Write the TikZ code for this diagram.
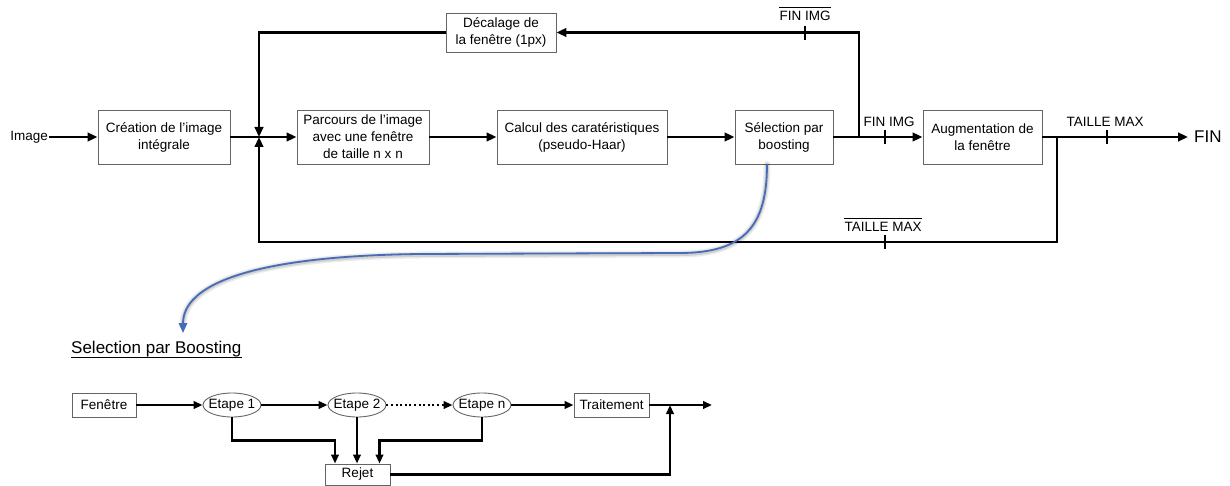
\documentclass[tikz,border=0pt]{standalone}
\usepackage{fontspec}
\setmainfont{Liberation Sans}
\usetikzlibrary{arrows.meta,calc,shapes.geometric}
\definecolor{framegray}{RGB}{100,100,100}
\definecolor{linkblue}{RGB}{70,108,184}

\begin{document}
\begin{tikzpicture}[x=1pt,y=-1pt,
  txt/.style={font=\fontsize{13.5}{17}\selectfont},
  box/.style={txt,draw=framegray,line width=0.9pt,fill=white,inner sep=0pt,align=center},
  stage/.style={txt,draw=framegray,line width=0.9pt,fill=white,ellipse,inner sep=0pt,
    minimum width=58pt,minimum height=24pt},
  wire/.style={line width=2.6pt},
  conn/.style={wire,-{Triangle[length=10pt,width=8.5pt]}},
  swire/.style={line width=2.2pt},
  sconn/.style={swire,-{Triangle[length=9pt,width=7.5pt]}},
  tick/.style={line width=1.4pt},
  lab/.style={txt,inner sep=0pt,anchor=base},
  bar/.style={line width=0.7pt}
]
\useasboundingbox (0,0) rectangle (1230,486);

% ---- main chain ----
\node[txt,anchor=east,inner sep=1pt] (img) at (49,137) {Image};
\node[box,minimum width=132pt,minimum height=54pt] (cre) at (164,137) {Création de l’image\\intégrale};
\node[box,minimum width=132pt,minimum height=54pt] (par) at (363,137) {Parcours de l’image\\avec une fenêtre\\de taille n x n};
\node[box,minimum width=170pt,minimum height=54pt] (cal) at (582,137) {Calcul des caratéristiques\\(pseudo-Haar)};
\node[box,minimum width=98pt,minimum height=54pt] (sel) at (784,137) {Sélection par\\boosting};
\node[box,minimum width=119pt,minimum height=54pt] (aug) at (982.5,137) {Augmentation de\\la fenêtre};
\node[box,minimum width=110pt,minimum height=39pt] (dec) at (501,32.5) {Décalage de\\la fenêtre (1px)};
\node[font=\fontsize{17}{20}\selectfont,anchor=west,inner sep=6pt] (fin) at (1188,137) {FIN};

\coordinate (j1) at (259,137);
\coordinate (j2) at (859,137);
\coordinate (j3) at (1057,137);
\coordinate (bl) at (259,242);

\draw[conn] (img.east) -- (cre.west);
\draw[conn] (cre.east) -- (par.west);
\draw[conn] (par.east) -- (cal.west);
\draw[conn] (cal.east) -- (sel.west);
\draw[conn] (sel.east) -- (aug.west);
\draw[conn] (aug.east) -- (fin.west);

% loop back through the window shift
\draw[conn] (j2) |- (dec.east);
\draw[conn] (dec.west) -| (j1);
% loop back after enlarging the window
\draw[conn] (j3) |- (bl) -- (j1);

% condition marks
\draw[tick] (805,26) -- (805,40);
\draw[tick] (885,130) -- (885,144);
\draw[tick] (1107,130) -- (1107,144);
\draw[tick] (885,235) -- (885,249);

\node[lab] (c1) at (805,21) {FIN IMG};
\draw[bar] ([yshift=4pt]c1.north west) -- ([yshift=4pt]c1.north east);
\node[lab] (c2) at (889,127) {FIN IMG};
\node[lab] (c3) at (1105,127) {TAILLE MAX};
\node[lab] (c4) at (883,232) {TAILLE MAX};
\draw[bar] ([yshift=4pt]c4.north west) -- ([yshift=4pt]c4.north east);

% ---- detail of the boosting selection ----
\node[font=\fontsize{17}{20}\selectfont,inner sep=0pt,anchor=base west] (ttl) at (71,353) {Selection par Boosting};
\draw[line width=0.8pt] ([yshift=-4.5pt]ttl.base west) -- ([yshift=-4.5pt]ttl.base east);
\coordinate (tgt) at (183,333);

\begin{scope}[line cap=round]
  \draw[black,opacity=0.07,line width=7pt]
    ([xshift=-17pt]sel.south) .. controls (767,225) and (745,254) .. (680,254) -- (420,255) .. controls (250,257) and (183,285) .. ([yshift=8pt]tgt);
  \draw[black,opacity=0.12,line width=4pt]
    ([xshift=-17pt]sel.south) .. controls (767,225) and (745,254) .. (680,254) -- (420,255) .. controls (250,257) and (183,285) .. ([yshift=8pt]tgt);
\end{scope}
\draw[linkblue,line width=1.8pt,-{Triangle[length=10pt,width=8.5pt]}]
  ([xshift=-17pt]sel.south) .. controls (767,225) and (745,253) .. (680,253) -- (420,254) .. controls (250,256) and (183,285) .. (tgt);

\node[box,minimum width=64pt,minimum height=24pt] (fen) at (104,405) {Fenêtre};
\node[stage] (e1) at (232,405) {\makebox[0pt]{Etape 1}};
\node[stage] (e2) at (357,405) {\makebox[0pt]{Etape 2}};
\node[stage] (en) at (482,405) {\makebox[0pt]{Etape n}};
\node[box,minimum width=75pt,minimum height=24pt] (tra) at (611.5,405) {Traitement};
\node[box,minimum width=65pt,minimum height=21pt] (rej) at (357.5,474.5) {Rejet};
\coordinate (j4) at (670,405);
\coordinate (out) at (712,405);

\draw[sconn] (fen.east) -- (e1.west);
\draw[sconn] (e1.east) -- (e2.west);
\draw[sconn,dash pattern=on 2pt off 2.6pt] (e2.east) -- (en.west);
\draw[sconn] (en.east) -- (tra.west);
\draw[sconn] (tra.east) -- (out);

\draw[sconn] (e1.south) -- ++(0,23) -| ([xshift=-22.5pt]rej.north);
\draw[sconn] (e2.south) -- (e2.south |- rej.north);
\draw[sconn] (en.south) -- ++(0,23) -| ([xshift=22pt]rej.north);
\draw[sconn] (rej.east) -| (j4);
\end{tikzpicture}
\end{document}
